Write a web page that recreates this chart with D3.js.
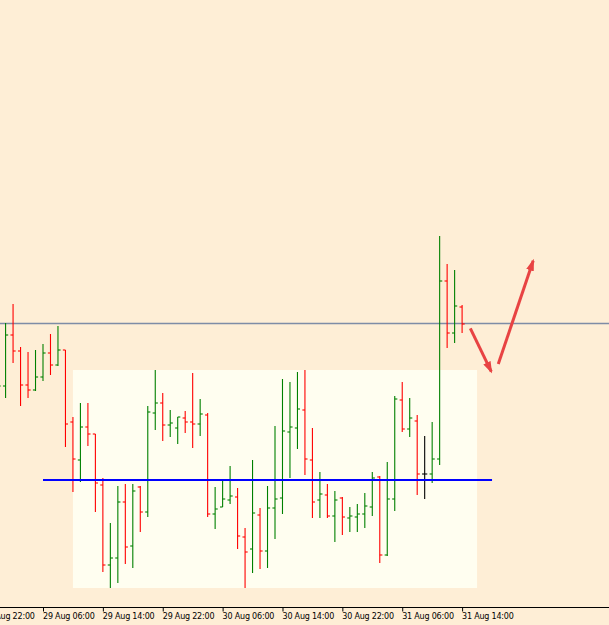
<!DOCTYPE html>
<html>
<head>
<meta charset="utf-8">
<script src="https://cdn.jsdelivr.net/npm/d3@7"></script>
<style>
  html, body { margin: 0; padding: 0; background: #feeed6; }
  svg { display: block; }
</style>
</head>
<body>
<script>
// hourly bars, 29 Aug 00:00 .. 31 Aug 14:00
const firstBar = "2016-08-29 00:00"
const lastBar = "2016-08-31 14:00"

const opens = [1.3205, 1.3214, 1.3265, 1.3249, 1.3215, 1.3210, 1.3223, 1.3247, 1.3235, 1.3250,
  1.3178, 1.3140, 1.3173, 1.3166, 1.3115, 1.3035, 1.3042, 1.3098, 1.3054, 1.3113,
  1.3088, 1.3187, 1.3197, 1.3175, 1.3172, 1.3182, 1.3178, 1.3176, 1.3185, 1.3086,
  1.3093, 1.3100, 1.3103, 1.3063, 1.3051, 1.3085, 1.3049, 1.3092, 1.3102, 1.3168,
  1.3172, 1.3190, 1.3140, 1.3100, 1.3105, 1.3084, 1.3102, 1.3082, 1.3083, 1.3086,
  1.3093, 1.3123, 1.3045, 1.3101, 1.3200, 1.3171, 1.3179, 1.3126, 1.3126, 1.3141,
  1.3319, 1.3267, 1.3293]
const highs = [1.3230, 1.3277, 1.3296, 1.3253, 1.3248, 1.3250, 1.3256, 1.3266, 1.3274, 1.3250,
  1.3183, 1.3197, 1.3197, 1.3166, 1.3122, 1.3077, 1.3114, 1.3116, 1.3116, 1.3114,
  1.3194, 1.3230, 1.3207, 1.3190, 1.3183, 1.3189, 1.3227, 1.3201, 1.3187, 1.3113,
  1.3119, 1.3134, 1.3112, 1.3072, 1.3140, 1.3092, 1.3114, 1.3174, 1.3221, 1.3218,
  1.3228, 1.3230, 1.3172, 1.3128, 1.3116, 1.3109, 1.3103, 1.3093, 1.3096, 1.3107,
  1.3128, 1.3124, 1.3138, 1.3204, 1.3218, 1.3202, 1.3185, 1.3164, 1.3178, 1.3364,
  1.3336, 1.3330, 1.3295]
const lows = [1.3195, 1.3202, 1.3237, 1.3194, 1.3202, 1.3209, 1.3219, 1.3225, 1.3234, 1.3153,
  1.3108, 1.3118, 1.3154, 1.3088, 1.3028, 1.3012, 1.3017, 1.3036, 1.3032, 1.3068,
  1.3083, 1.3170, 1.3159, 1.3163, 1.3156, 1.3167, 1.3152, 1.3164, 1.3083, 1.3071,
  1.3093, 1.3096, 1.3051, 1.3012, 1.3027, 1.3031, 1.3032, 1.3061, 1.3086, 1.3122,
  1.3151, 1.3125, 1.3082, 1.3082, 1.3082, 1.3058, 1.3065, 1.3068, 1.3068, 1.3072,
  1.3084, 1.3037, 1.3044, 1.3089, 1.3168, 1.3163, 1.3105, 1.3101, 1.3117, 1.3135,
  1.3252, 1.3257, 1.3267]
const closes = [1.3214, 1.3265, 1.3249, 1.3215, 1.3210, 1.3223, 1.3247, 1.3235, 1.3250, 1.3176,
  1.3141, 1.3173, 1.3166, 1.3117, 1.3035, 1.3042, 1.3098, 1.3053, 1.3109, 1.3088,
  1.3188, 1.3197, 1.3175, 1.3177, 1.3183, 1.3178, 1.3176, 1.3186, 1.3086, 1.3091,
  1.3101, 1.3104, 1.3064, 1.3048, 1.3087, 1.3049, 1.3092, 1.3101, 1.3169, 1.3173,
  1.3191, 1.3141, 1.3098, 1.3106, 1.3084, 1.3100, 1.3083, 1.3084, 1.3086, 1.3094,
  1.3122, 1.3045, 1.3101, 1.3201, 1.3171, 1.3182, 1.3126, 1.3126, 1.3141, 1.3319,
  1.3267, 1.3294, 1.3276]

const tickLabels = ["2016-08-28 22:00", "2016-08-29 06:00", "2016-08-29 14:00", "2016-08-29 22:00",
  "2016-08-30 06:00", "2016-08-30 14:00", "2016-08-30 22:00", "2016-08-31 06:00", "2016-08-31 14:00"]

// objects drawn on the chart
const zoneBox = { from: "2016-08-29 10:00", to: "2016-08-31 16:00", top: 1.3230, bottom: 1.3012 }
const levelLine = { from: "2016-08-29 06:00", to: "2016-08-31 18:00", price: 1.3120 }
const bidPrice = 1.32765
const arrows = [
  [["2016-08-31 15:06", 1.32717], ["2016-08-31 17:54", 1.32283]],
  [["2016-08-31 18:50", 1.32360], ["2016-08-31 23:30", 1.33393]]
]

const width = 609, height = 625
const axisY = 607.5
const parse = d3.utcParse("%Y-%m-%d %H:%M")

let x = d3.scaleUtc()
  .domain([parse("2016-08-29 06:00"), parse("2016-08-31 14:00")])
  .range([43.0, 462.1])
let y = d3.scaleLinear()
  .domain([1.30, 1.36])
  .range([600, 0])

let times = d3.utcHour.range(parse(firstBar), d3.utcHour.offset(parse(lastBar), 1))
let bars = times.map((t, i) => ({ t: t, o: opens[i], h: highs[i], l: lows[i], c: closes[i] }))

var svg = d3.select("body").append("svg")
  .attr("width", width)
  .attr("height", height)

svg.append("rect")
  .attr("width", width)
  .attr("height", height)
  .attr("fill", "#feeed6")

svg.append("rect")
  .attr("x", x(parse(zoneBox.from)))
  .attr("y", y(zoneBox.top))
  .attr("width", x(parse(zoneBox.to)) - x(parse(zoneBox.from)))
  .attr("height", y(zoneBox.bottom) - y(zoneBox.top))
  .attr("fill", "#fffef0")

svg.append("line")
  .attr("x1", 0).attr("x2", width)
  .attr("y1", y(bidPrice)).attr("y2", y(bidPrice))
  .attr("stroke", "#7e8ca6")
  .attr("stroke-width", 1.6)

function barColor(d) {
  if (d.c > d.o) return "#008000"
  if (d.c < d.o) return "#ff0000"
  return "#000"
}

let tick = 2.6
let g = svg.selectAll("g.bar").data(bars).enter().append("g")
  .attr("class", "bar")
  .attr("stroke", barColor)
  .attr("stroke-width", 1.1)
g.append("line")
  .attr("x1", d => x(d.t)).attr("x2", d => x(d.t))
  .attr("y1", d => y(d.h)).attr("y2", d => y(d.l))
g.append("line")
  .attr("x1", d => x(d.t) - tick).attr("x2", d => x(d.t))
  .attr("y1", d => y(d.o)).attr("y2", d => y(d.o))
g.append("line")
  .attr("x1", d => x(d.t)).attr("x2", d => x(d.t) + tick)
  .attr("y1", d => y(d.c)).attr("y2", d => y(d.c))

svg.append("line")
  .attr("x1", x(parse(levelLine.from))).attr("x2", x(parse(levelLine.to)))
  .attr("y1", y(levelLine.price)).attr("y2", y(levelLine.price))
  .attr("stroke", "#0000ff")
  .attr("stroke-width", 2)

// arrows
svg.append("defs").append("marker")
  .attr("id", "head")
  .attr("markerUnits", "userSpaceOnUse")
  .attr("viewBox", "0 0 12 8")
  .attr("refX", 10).attr("refY", 4)
  .attr("markerWidth", 12).attr("markerHeight", 8)
  .attr("orient", "auto")
  .append("path")
  .attr("d", "M0,0L12,4L0,8Z")
  .attr("fill", "#e84343")

arrows.forEach(a => {
  svg.append("line")
    .attr("x1", x(parse(a[0][0]))).attr("y1", y(a[0][1]))
    .attr("x2", x(parse(a[1][0]))).attr("y2", y(a[1][1]))
    .attr("stroke", "#e84343")
    .attr("stroke-width", 3)
    .attr("marker-end", "url(#head)")
})

// time axis
svg.append("line")
  .attr("x1", 0).attr("x2", width)
  .attr("y1", axisY).attr("y2", axisY)
  .attr("stroke", "#000")

let axis = d3.axisBottom(x)
  .tickValues(tickLabels.map(parse))
  .tickFormat(d3.utcFormat("%d %b %H:%M"))
  .tickSize(4)
  .tickSizeOuter(0)

let ax = svg.append("g")
  .attr("transform", "translate(0," + axisY + ")")
  .call(axis)
ax.select(".domain").remove()
ax.selectAll("text")
  .attr("text-anchor", "start")
  .attr("x", -0.5)
  .attr("y", 11)
  .attr("dy", 0)
  .attr("fill", "#000")
  .style("font-family", "'DejaVu Sans', sans-serif")
  .style("font-size", "8px")
  .style("letter-spacing", "-0.2px")
</script>
</body>
</html>
